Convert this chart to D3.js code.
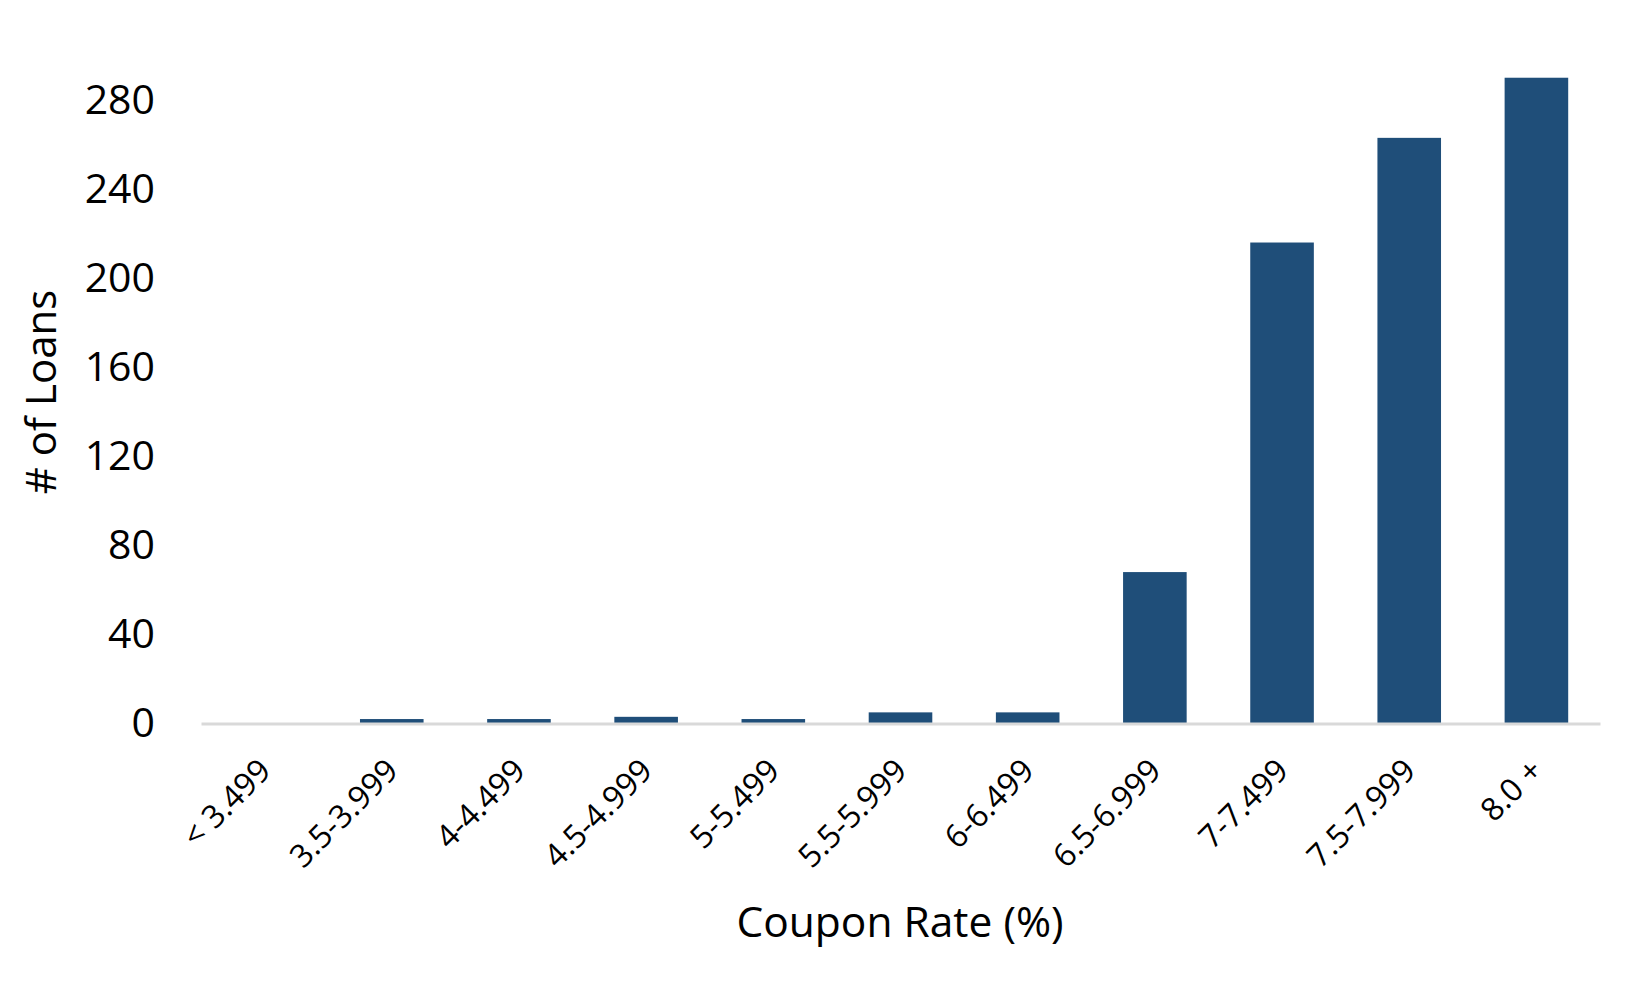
<!DOCTYPE html>
<html>
<head>
<meta charset="utf-8">
<script src="https://cdn.jsdelivr.net/npm/d3@7"></script>
<style>
  html, body { margin: 0; padding: 0; background: #ffffff; }
  svg { display: block; }
  text { font-family: "Open Sans", "Noto Sans", sans-serif; fill: #000; }
</style>
</head>
<body>
<svg id="chart" width="1650" height="990"></svg>
<script>
const categories = ["< 3.499", "3.5-3.999", "4-4.499", "4.5-4.999", "5-5.499", "5.5-5.999",
                    "6-6.499", "6.5-6.999", "7-7.499", "7.5-7.999", "8.0 +"];
const loanCounts = [0, 2, 2, 3, 2, 5, 5, 68, 216, 263, 290];
const yTicks = [0, 40, 80, 120, 160, 200, 240, 280];
const xTitle = "Coupon Rate (%)";
const yTitle = "# of Loans";

const svg = d3.select("#chart");
const left = 201, right = 1600, zeroY = 723.5, topY = 100;

const x = d3.scaleBand().domain(categories).range([left, right]).paddingInner(0.5).paddingOuter(0.25);
const y = d3.scaleLinear().domain([0, 280]).range([zeroY, topY]);

// bars
svg.append("g").selectAll("rect")
  .data(categories.map((c, i) => ({c, v: loanCounts[i]})))
  .join("rect")
  .attr("x", d => x(d.c))
  .attr("width", x.bandwidth())
  .attr("y", d => y(d.v))
  .attr("height", d => Math.max(0, y(0) - y(d.v)))
  .attr("fill", "#1f4e79");

// y axis
const yAxis = svg.append("g")
  .attr("transform", `translate(${left},0)`)
  .call(d3.axisLeft(y).tickValues(yTicks).tickSize(0).tickPadding(46).tickFormat(d3.format("d")));
yAxis.select(".domain").remove();
yAxis.selectAll("text").style("font-size", "41px").attr("font-family", "Open Sans");

// x axis
const xAxis = svg.append("g")
  .attr("transform", `translate(0,${zeroY})`)
  .call(d3.axisBottom(x).tickSize(0).tickSizeOuter(0));
xAxis.select(".domain").attr("stroke", "#d9d9d9").attr("stroke-width", 3);
xAxis.selectAll(".tick text")
  .style("font-size", "32px")
  .attr("font-family", "Open Sans")
  .attr("text-anchor", "end")
  .attr("y", 0)
  .attr("dy", "0.36em")
  .attr("transform", "translate(0,41) rotate(-45)");

// titles
svg.append("text")
  .attr("x", 900).attr("y", 937)
  .attr("text-anchor", "middle")
  .style("font-size", "42.5px")
  .text(xTitle);

svg.append("text")
  .attr("transform", "translate(56,392) rotate(-90)")
  .attr("text-anchor", "middle")
  .style("font-size", "42px")
  .text(yTitle);
</script>
</body>
</html>
